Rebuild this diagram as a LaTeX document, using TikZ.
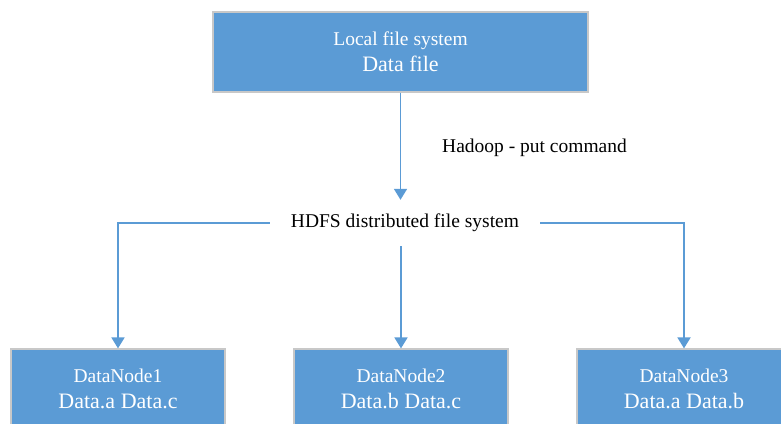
\documentclass[tikz,border=0pt]{standalone}
\usepackage{fontspec}
\setmainfont{Liberation Serif}
\usepackage{tikz}
\usetikzlibrary{arrows.meta}
\definecolor{boxblue}{HTML}{5B9BD5}
\definecolor{boxedge}{HTML}{C8C8C8}
\newcommand{\minortext}[1]{{\fontsize{19.5}{26}\selectfont #1}}

\begin{document}
\begin{tikzpicture}[x=1pt, y=-1pt,
    blockbox/.style={draw=boxedge, line width=1.2pt, fill=boxblue, text=white, align=center,
      minimum width=214pt, minimum height=80pt, inner sep=0pt, font=\fontsize{22}{26}\selectfont},
    plainlabel/.style={font=\fontsize{19.5}{22}\selectfont, inner sep=0pt},
    arrowwire/.style={draw=boxblue, line width=1.8pt, -{Triangle[width=13pt,length=11pt]}}]
    		\clip (0,0) rectangle (781,423);
    		% Paths, nodes and wires:
    		\node[blockbox, minimum width=375pt](local) at (400.5, 52){\minortext{Local file system}\\Data file};
    		\node[plainlabel](putcmd) at (534.5, 148){Hadoop - put command};
    		\node[plainlabel, inner xsep=21pt, minimum height=46pt](hdfs) at (405, 223){HDFS distributed file system};
    		\node[blockbox](dn1) at (118, 389){\minortext{DataNode1}\\Data.a Data.c};
    		\node[blockbox](dn2) at (401, 389){\minortext{DataNode2}\\Data.b Data.c};
    		\node[blockbox](dn3) at (684, 389){\minortext{DataNode3}\\Data.a Data.b};
    		\draw[arrowwire] (local) -- (local.south |- hdfs.north);
    		\draw[arrowwire] (hdfs.west) -| (dn1);
    		\draw[arrowwire] (dn2.north |- hdfs.south) -- (dn2);
    		\draw[arrowwire] (hdfs.east) -| (dn3);
    	\end{tikzpicture}
\end{document}
